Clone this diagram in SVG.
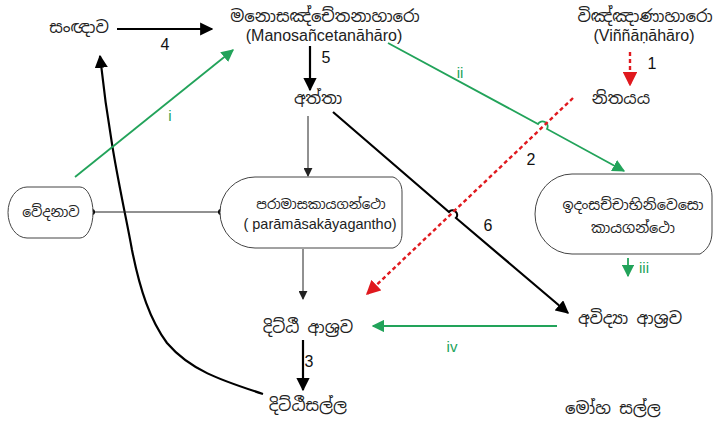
<svg xmlns="http://www.w3.org/2000/svg" width="716" height="421" viewBox="0 0 716 421">
<defs>
<style>
.si{font-family:"Noto Sans Sinhala","Iskoola Pota","Noto Sans","DejaVu Sans",sans-serif;font-size:16.5px;fill:#222;text-anchor:middle}
.sm{font-size:14px}
.la{font-family:"Liberation Sans",Arial,sans-serif;font-size:16px;fill:#222;text-anchor:middle}
.num{font-family:"Liberation Sans",Arial,sans-serif;font-size:16px;fill:#111;text-anchor:middle}
.rom{font-family:"Liberation Sans",Arial,sans-serif;font-size:15px;fill:#22a35a;text-anchor:middle}
.shape{fill:#fff;stroke:#444;stroke-width:1}
.thick{stroke:#000;stroke-width:2.2;fill:none}
.thin{stroke:#222;stroke-width:1;fill:none}
.green{stroke:#22a35a;stroke-width:1.8;fill:none}
.red{stroke:#e0191e;stroke-width:2.4;stroke-dasharray:4 3;fill:none}
</style>
<marker id="ab" viewBox="0 0 10 10" refX="9" refY="5" markerWidth="6" markerHeight="6" markerUnits="strokeWidth" orient="auto"><path d="M0,0 L10,5 L0,10 Z" fill="#000"/></marker>
<marker id="abt" viewBox="0 0 10 10" refX="9" refY="5" markerWidth="9" markerHeight="9" markerUnits="strokeWidth" orient="auto"><path d="M0,0 L10,5 L0,10 Z" fill="#222"/></marker>
<marker id="ag" viewBox="0 0 10 10" refX="9" refY="5" markerWidth="7" markerHeight="7" markerUnits="strokeWidth" orient="auto"><path d="M0,0 L10,5 L0,10 Z" fill="#22a35a"/></marker>
<marker id="ar" viewBox="0 0 10 10" refX="9" refY="5" markerWidth="6" markerHeight="6" markerUnits="strokeWidth" orient="auto"><path d="M0,0 L10,5 L0,10 Z" fill="#e0191e"/></marker>
</defs>
<rect width="716" height="421" fill="#fff"/>

<g id="connectors">
<line class="thick" x1="117" y1="29" x2="212" y2="29" marker-end="url(#ab)"/>
<line class="thick" x1="310" y1="46" x2="310" y2="90" marker-end="url(#ab)"/>
<line class="thick" x1="303" y1="340" x2="303" y2="390" marker-end="url(#ab)"/>
<path class="thick" d="M333,112 L449,212 A4,4 0 0 1 456,218 L568,313" marker-end="url(#ab)"/>
<path class="thick" d="M263,394 C220,380 190,370 167,343 C150,320 140,290 132,250 C125,210 110,150 100,56" marker-end="url(#ab)"/>
<line class="thin" x1="308" y1="116" x2="308" y2="176" marker-end="url(#abt)"/>
<line class="thin" x1="303" y1="249" x2="303" y2="299" marker-end="url(#abt)"/>
<line class="thin" x1="92" y1="212" x2="221" y2="212"/>
<circle cx="92" cy="212" r="3" fill="#000"/>
<circle cx="221" cy="212" r="3" fill="#000"/>
<line class="green" x1="75" y1="177" x2="233" y2="50" marker-end="url(#ag)"/>
<path class="green" d="M388,43 L538,124 A4,4 0 0 1 547,129 L624,171" marker-end="url(#ag)"/>
<line class="green" x1="628" y1="258" x2="628" y2="276" marker-end="url(#ag)"/>
<line class="green" x1="557" y1="326" x2="373" y2="326" marker-end="url(#ag)"/>
<line class="red" x1="630" y1="52" x2="630" y2="85" marker-end="url(#ar)"/>
<line class="red" x1="573" y1="98" x2="367" y2="294" marker-end="url(#ar)"/>
<text class="num" x="165" y="50">4</text>
<text class="num" x="326" y="63">5</text>
<text class="num" x="652" y="69">1</text>
<text class="num" x="531" y="165">2</text>
<text class="num" x="488" y="231">6</text>
<text class="num" x="309" y="367">3</text>
<text class="rom" x="170" y="121">i</text>
<text class="rom" x="460" y="78">ii</text>
<text class="rom" x="644" y="273">iii</text>
<text class="rom" x="452" y="352">iv</text>
</g>

<g id="sangnava"><text class="si" x="79" y="33">සංඥාව</text></g>
<g id="manosancetana"><text class="si" x="325" y="22">මනොසඤ්චේතනාහාරො</text><text class="la" x="324" y="41">(Manosañcetanāhāro)</text></g>
<g id="vinnana"><text class="si" x="645" y="22">විඤ්ඤාණාහාරො</text><text class="la" x="644" y="41">(Viññāṇāhāro)</text></g>
<g id="nitayaya"><text class="si" x="621" y="104">නිතයය</text></g>
<g id="atta"><text class="si" x="318" y="104">අත්තා</text></g>
<g id="vedanava"><path class="shape" d="M27,187 L80,187 A13,25.5 0 0 1 80,238 L27,238 A19,25.5 0 0 1 27,187 Z"/><text class="si sm" x="51" y="217">වේදනාව</text></g>
<g id="paramasa"><path class="shape" d="M255,177 L393,177 C399,179 402,185 402,192 L402,233 C402,241 399,246 393,248 L255,248 A35,35.5 0 0 1 255,177 Z"/><text class="si" style="font-size:13.5px" x="321" y="209">පරාමාසකායගන්ථො</text><text class="la" style="font-size:14.5px" x="320" y="229">( parāmāsakāyagantho)</text></g>
<g id="idamsacca"><path class="shape" d="M572,174 L700,174 C707,178 712,186 712,196 L712,232 C712,243 707,250 700,254 L572,254 A37,40 0 0 1 572,174 Z"/><text class="si" style="font-size:14.5px" x="633" y="210">ඉදංසච්චාභිනිවෙසො</text><text class="si" style="font-size:14.5px" x="633" y="233">කායගන්ථො</text></g>
<g id="ditthi-asrava"><text class="si" x="308" y="333">දිට්ඨී ආශ්‍රව</text></g>
<g id="avidya-asrava"><text class="si" x="630" y="324">අවිද්‍යා ආශ්‍රව</text></g>
<g id="ditthisalla"><text class="si" x="308" y="411">දිට්ඨීසල්ල</text></g>
<g id="moha-salla"><text class="si" x="613" y="414">මෝහ සල්ල</text></g>
</svg>
